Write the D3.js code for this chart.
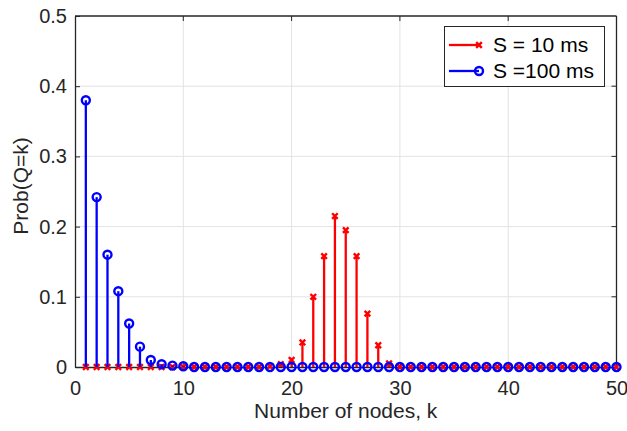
<!DOCTYPE html>
<html>
<head>
<meta charset="utf-8">
<script src="https://cdn.jsdelivr.net/npm/d3@7"></script>
<style>
body { margin: 0; background: #fff; }
svg { font-family: "Liberation Sans", Arial, sans-serif; }
</style>
</head>
<body>
<div id="chart"></div>
<script>
// data
var kValues = d3.range(1, 51);
var probS10 = [0,0,0,0,0,0,0,0,0,0, 0,0,0,0,0,0,0,0.001,0.004,0.010,
  0.035,0.100,0.158,0.215,0.195,0.158,0.076,0.031,0.005,0,
  0,0,0,0,0,0,0,0,0,0, 0,0,0,0,0,0,0,0,0,0];
var probS100 = [0.380,0.242,0.160,0.108,0.062,0.029,0.010,0.004,0.002,0.001,
  0,0,0,0,0,0,0,0,0,0, 0,0,0,0,0,0,0,0,0,0,
  0,0,0,0,0,0,0,0,0,0, 0,0,0,0,0,0,0,0,0,0];
var xTicks = [0, 10, 20, 30, 40, 50];
var yTicks = [0, 0.1, 0.2, 0.3, 0.4, 0.5];
var seriesNames = ["S = 10 ms", "S =100 ms"];

var width = 627, height = 431;
var pLeft = 75, pRight = 616.5, pTop = 16, pBottom = 367;

var svg = d3.select("#chart").append("svg")
  .attr("width", width)
  .attr("height", height);

var x = d3.scaleLinear().domain([0, 50]).range([pLeft, pRight]);
var y = d3.scaleLinear().domain([0, 0.5]).range([pBottom, pTop]);

// grid
svg.append("g").selectAll("line").data(xTicks.slice(1, -1)).enter().append("line")
  .attr("x1", d => x(d)).attr("x2", d => x(d))
  .attr("y1", pTop).attr("y2", pBottom)
  .attr("stroke", "#e3e3e3").attr("stroke-width", 1);
svg.append("g").selectAll("line").data(yTicks.slice(1, -1)).enter().append("line")
  .attr("y1", d => y(d)).attr("y2", d => y(d))
  .attr("x1", pLeft).attr("x2", pRight)
  .attr("stroke", "#e3e3e3").attr("stroke-width", 1);

// axes
var xAxis = svg.append("g")
  .attr("transform", "translate(0," + pBottom + ")")
  .call(d3.axisBottom(x).tickValues(xTicks).tickSizeInner(-5).tickSizeOuter(0).tickPadding(14));
var yAxis = svg.append("g")
  .attr("transform", "translate(" + pLeft + ",0)")
  .call(d3.axisLeft(y).tickValues(yTicks).tickSizeInner(-5).tickSizeOuter(0).tickPadding(8)
    .tickFormat(d => d === 0 ? "0" : d3.format(".1f")(d)));
[xAxis, yAxis].forEach(function(a) {
  a.selectAll("text").attr("font-size", 20).attr("fill", "#262626")
    .attr("font-family", "Liberation Sans, Arial, sans-serif");
  a.selectAll("line").attr("stroke", "#262626");
  a.select(".domain").attr("stroke", "#262626").attr("stroke-width", 1.3);
});
// top/right frame
svg.append("line").attr("x1", pLeft).attr("x2", pRight).attr("y1", pTop).attr("y2", pTop)
  .attr("stroke", "#262626").attr("stroke-width", 1.3);
svg.append("line").attr("x1", pRight).attr("x2", pRight).attr("y1", pTop).attr("y2", pBottom)
  .attr("stroke", "#262626").attr("stroke-width", 1.3);
svg.append("g").selectAll("line").data(xTicks.slice(1, -1)).enter().append("line")
  .attr("x1", d => x(d)).attr("x2", d => x(d)).attr("y1", pTop).attr("y2", pTop + 5)
  .attr("stroke", "#262626");
svg.append("g").selectAll("line").data(yTicks.slice(1, -1)).enter().append("line")
  .attr("y1", d => y(d)).attr("y2", d => y(d)).attr("x1", pRight).attr("x2", pRight - 5)
  .attr("stroke", "#262626");

function xMark(g, cx, cy, color) {
  var s = 2.8;
  g.append("path")
    .attr("d", "M" + (cx - s) + "," + (cy - s) + "L" + (cx + s) + "," + (cy + s) +
      "M" + (cx - s) + "," + (cy + s) + "L" + (cx + s) + "," + (cy - s))
    .attr("stroke", color).attr("stroke-width", 2.4).attr("fill", "none");
}

// S = 10 ms (red)
var red = svg.append("g");
red.selectAll("line").data(kValues).enter().append("line")
  .attr("x1", k => x(k)).attr("x2", k => x(k))
  .attr("y1", y(0)).attr("y2", (k, i) => y(probS10[i]))
  .attr("stroke", "#ff0000").attr("stroke-width", 2.3);
kValues.forEach(function(k, i) { xMark(red, x(k), y(probS10[i]), "#ff0000"); });

// S = 100 ms (blue)
var blue = svg.append("g");
blue.selectAll("line").data(kValues).enter().append("line")
  .attr("x1", k => x(k)).attr("x2", k => x(k))
  .attr("y1", y(0)).attr("y2", (k, i) => y(probS100[i]))
  .attr("stroke", "#0000ff").attr("stroke-width", 2.3);
blue.selectAll("circle").data(kValues).enter().append("circle")
  .attr("cx", k => x(k)).attr("cy", (k, i) => y(probS100[i]))
  .attr("r", 4).attr("fill", "none").attr("stroke", "#0000ff").attr("stroke-width", 2.4);

// labels
svg.append("text").attr("x", (pLeft + pRight) / 2).attr("y", 418)
  .attr("text-anchor", "middle").attr("font-size", 21).attr("fill", "#262626")
  .text("Number of nodes, k");
svg.append("text").attr("transform", "translate(28,186) rotate(-90)")
  .attr("text-anchor", "middle").attr("font-size", 21).attr("fill", "#262626")
  .text("Prob(Q=k)");

// legend
var lg = svg.append("g");
lg.append("rect").attr("x", 444.5).attr("y", 26.5).attr("width", 160).attr("height", 60)
  .attr("fill", "#fff").attr("stroke", "#262626").attr("stroke-width", 1);
var legRows = [{c: "#ff0000", ty: 45}, {c: "#0000ff", ty: 71}];
legRows.forEach(function(r, i) {
  lg.append("line").attr("x1", 449).attr("x2", 479).attr("y1", r.ty).attr("y2", r.ty)
    .attr("stroke", r.c).attr("stroke-width", 2.3);
  if (i === 0) xMark(lg, 479, r.ty, r.c);
  else lg.append("circle").attr("cx", 479).attr("cy", r.ty).attr("r", 4)
    .attr("fill", "none").attr("stroke", r.c).attr("stroke-width", 2.4);
  lg.append("text").attr("x", 493).attr("y", r.ty + 7).attr("font-size", 21)
    .attr("fill", "#000").text(seriesNames[i]);
});
</script>
</body>
</html>
